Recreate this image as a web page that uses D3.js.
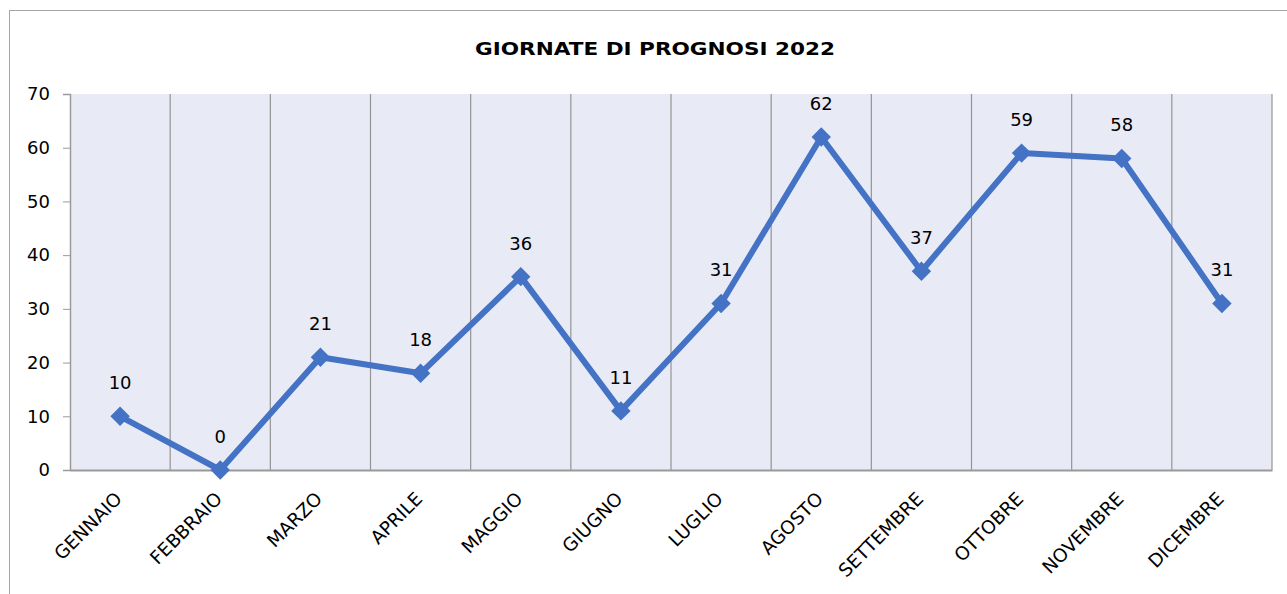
<!DOCTYPE html>
<html>
<head>
<meta charset="utf-8">
<script src="https://cdn.jsdelivr.net/npm/d3@7"></script>
<style>
  body { margin: 0; background: #fff; }
  text { font-family: "DejaVu Sans", sans-serif; fill: #000; }
</style>
</head>
<body>
<svg id="chart" width="1287" height="594"></svg>
<script>
const months = ["GENNAIO", "FEBBRAIO", "MARZO", "APRILE", "MAGGIO", "GIUGNO",
  "LUGLIO", "AGOSTO", "SETTEMBRE", "OTTOBRE", "NOVEMBRE", "DICEMBRE"];
const days = [10, 0, 21, 18, 36, 11, 31, 62, 37, 59, 58, 31];
const yTicks = [0, 10, 20, 30, 40, 50, 60, 70];
const title = "GIORNATE DI PROGNOSI 2022";

const svg = d3.select("#chart");
const m = { left: 70, right: 1272, top: 94, bottom: 470 };
const blue = "#4472c4";

// outer frame
svg.append("rect")
  .attr("x", 9.5).attr("y", 10.5).attr("width", 1300).attr("height", 600)
  .attr("fill", "none").attr("stroke", "#a6a6a6");

svg.append("text")
  .attr("x", 655).attr("y", 55)
  .attr("text-anchor", "middle")
  .attr("font-weight", "bold").attr("font-size", 18.5)
  .attr("textLength", 360).attr("lengthAdjust", "spacingAndGlyphs")
  .text(title);

const x = d3.scaleBand().domain(months).range([m.left, m.right]);
const y = d3.scaleLinear().domain([0, 70]).range([m.bottom, m.top]);

svg.append("rect")
  .attr("x", m.left).attr("y", m.top)
  .attr("width", m.right - m.left).attr("height", m.bottom - m.top)
  .attr("fill", "#e8ebf5");

// vertical separators between categories
svg.append("g").selectAll("line")
  .data(months)
  .join("line")
  .attr("x1", d => x(d) + x.bandwidth()).attr("x2", d => x(d) + x.bandwidth())
  .attr("y1", m.top).attr("y2", m.bottom)
  .attr("stroke", "#949494").attr("stroke-width", 1.2);

const yAxis = svg.append("g")
  .attr("transform", `translate(${m.left},0)`)
  .call(d3.axisLeft(y).tickValues(yTicks).tickSize(7).tickPadding(13));
yAxis.select(".domain").attr("stroke", "#9a9a9a").attr("stroke-width", 1.5);
yAxis.selectAll(".tick line").attr("stroke", "#9a9a9a");
yAxis.selectAll("text").attr("font-size", 18).attr("font-family", "DejaVu Sans");

const xAxis = svg.append("g")
  .attr("transform", `translate(0,${m.bottom})`)
  .call(d3.axisBottom(x).tickSize(0).tickPadding(0));
xAxis.select(".domain").attr("stroke", "#9a9a9a").attr("stroke-width", 2);
xAxis.selectAll("text")
  .attr("font-size", 18.5).attr("font-family", "DejaVu Sans")
  .attr("text-anchor", "end")
  .attr("dy", 0)
  .attr("transform", "translate(3,30) rotate(-45)");

const pts = months.map((mo, i) => [x(mo) + x.bandwidth() / 2, y(days[i])]);

svg.append("path")
  .datum(pts)
  .attr("d", d3.line())
  .attr("fill", "none").attr("stroke", blue)
  .attr("stroke-width", 6).attr("stroke-linejoin", "round");

svg.append("g").selectAll("path")
  .data(pts)
  .join("path")
  .attr("transform", d => `translate(${d[0]},${d[1]})`)
  .attr("d", d3.symbol(d3.symbolDiamond2, 240))
  .attr("fill", blue);

svg.append("g").selectAll("text")
  .data(days)
  .join("text")
  .attr("x", (d, i) => pts[i][0])
  .attr("y", (d, i) => pts[i][1] - 27)
  .attr("text-anchor", "middle")
  .attr("font-size", 18)
  .text(d => d);
</script>
</body>
</html>
